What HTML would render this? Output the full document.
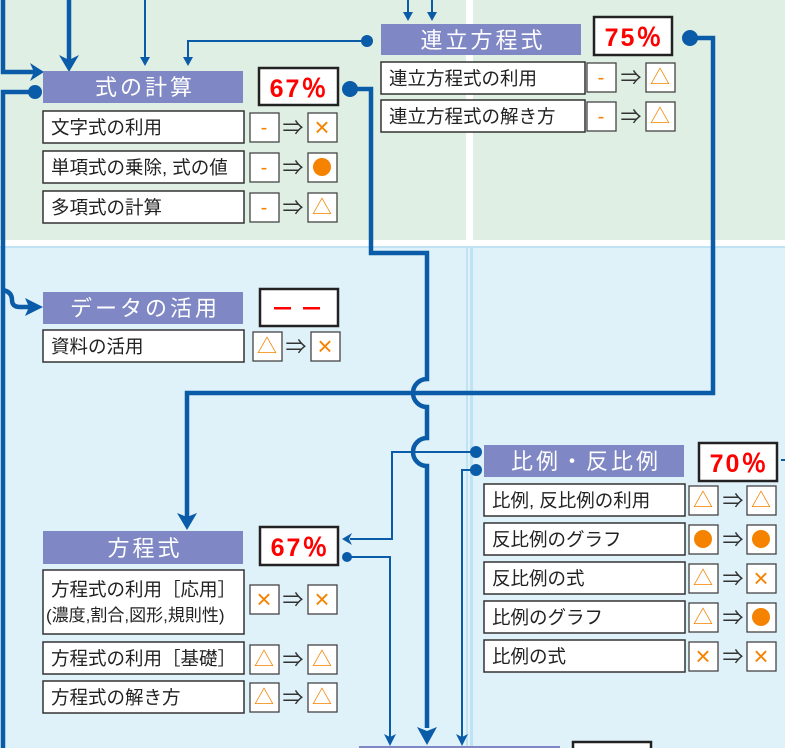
<!DOCTYPE html>
<html><head><meta charset="utf-8"><style>
html,body{margin:0;padding:0;background:#dff1f9}
svg{display:block}
text{font-family:"Liberation Sans","Noto Sans CJK JP",sans-serif}
.h{fill:#7f88c4}
.ht{fill:#fff;font-size:22px;text-anchor:middle;letter-spacing:3px}
.r{fill:#fff;stroke:#333;stroke-width:1.5}
.rt{fill:#222;font-size:18.5px}
.p{fill:#fff;stroke:#222;stroke-width:2.5}
.pt{fill:#f00;font-size:25px;font-weight:bold;text-anchor:middle;font-family:"Liberation Sans Narrow","Liberation Sans",sans-serif;letter-spacing:2px}
.s{fill:#fff;stroke:#444;stroke-width:1.3}
.st{fill:#f58300;font-size:20px;text-anchor:middle}
.x{fill:#f58300;font-size:26px;text-anchor:middle}
.ar{fill:#333;font-size:21px;text-anchor:middle}
.k{fill:none;stroke:#0a5ba8;stroke-width:4.5}
.t{fill:none;stroke:#0a5ba8;stroke-width:2}
.d{fill:#0a5ba8}
</style></head><body>
<svg width="785" height="748" viewBox="0 0 785 748" xmlns="http://www.w3.org/2000/svg">
<rect x="0" y="0" width="785" height="240" fill="#e0efe4"/>
<rect x="0" y="240" width="785" height="6" fill="#fff"/>
<rect x="0" y="246" width="785" height="502" fill="#dff1f9"/>
<rect x="466" y="0" width="7" height="240" fill="#fff"/>
<rect x="466" y="246" width="2" height="502" fill="#bfe2f4"/>
<rect x="470" y="246" width="3" height="502" fill="#bfe2f4"/>
<rect x="0" y="246" width="785" height="2" fill="#bfe2f4"/>

<path class="k" d="M3 0 V72 H36"/><path class="d" d="M44 72 L30 63 L34 72 L30 81Z"/>
<path class="k" d="M69 0 V60"/><path class="d" d="M69 72 L59 55 L69 60 L79 55Z"/>
<path class="t" d="M145 0 V60"/><path class="d" d="M145 66 L140 57 L150 57Z"/>
<path class="k" d="M35 92 H3 V748"/><circle class="d" cx="35" cy="92" r="7"/>
<path class="k" d="M3 290 Q12 292 12 300 Q12 307 20 307 H34"/><path class="d" d="M43 307 L25 298 L29 307 L25 316Z"/>
<path class="t" d="M367 41 H188 V60"/><circle class="d" cx="367" cy="41" r="6"/><path class="d" d="M188 66 L183 57 L193 57Z"/>
<path class="t" d="M408 0 V14"/><path class="d" d="M408 21 L403 12 L413 12Z"/>
<path class="t" d="M432 0 V14"/><path class="d" d="M432 21 L427 12 L437 12Z"/>
<path class="k" d="M350 89 H371 V253 H427 V379 A14 14 0 0 0 427 407 V438 A14 14 0 0 0 427 466 V728"/>
<circle class="d" cx="350" cy="89" r="8"/>
<path class="d" d="M427 745 L417 727 L427 731 L437 727Z"/>
<path class="k" d="M690 38 H713 V393 H187 V518"/><circle class="d" cx="690" cy="38" r="8"/>
<path class="d" d="M187 530 L177 513 L187 517 L197 513Z"/>
<path class="t" d="M476 452 H392 V539 H350"/><circle class="d" cx="476" cy="452" r="6"/>
<path class="d" d="M342 539 L352 533 L349 539 L352 545Z"/>
<path class="t" d="M347 557 H390 V738"/><circle class="d" cx="347" cy="557" r="5"/>
<path class="d" d="M390 746 L384 734 L390 737 L396 734Z"/>
<path class="t" d="M476 470 H462 V738"/><circle class="d" cx="476" cy="470" r="6"/>
<path class="d" d="M462 746 L456 734 L462 737 L468 734Z"/>
<path class="t" d="M785 460 H781"/>

<rect class="h" x="43" y="71" width="200" height="32"/><text class="ht" x="145" y="95">式の計算</text>
<rect class="p" x="259" y="68" width="79" height="37"/><text class="pt" x="299" y="97">67％</text>
<rect class="r" x="43" y="111" width="201" height="32"/><text class="rt" x="51" y="134">文字式の利用</text>
<rect class="r" x="43" y="151" width="201" height="32"/><text class="rt" x="51" y="174">単項式の乗除, 式の値</text>
<rect class="r" x="43" y="191" width="201" height="32"/><text class="rt" x="51" y="214">多項式の計算</text>
<rect class="s" x="250" y="113" width="29" height="29"/><text class="st" x="264" y="134">-</text><text class="ar" x="293" y="135">⇒</text><rect class="s" x="308" y="113" width="29" height="29"/><text class="x" x="322" y="136">×</text>
<rect class="s" x="250" y="153" width="29" height="29"/><text class="st" x="264" y="174">-</text><text class="ar" x="293" y="175">⇒</text><rect class="s" x="308" y="153" width="29" height="29"/><circle cx="322" cy="167" r="9" fill="#f58300"/>
<rect class="s" x="250" y="193" width="29" height="29"/><text class="st" x="264" y="214">-</text><text class="ar" x="293" y="215">⇒</text><rect class="s" x="308" y="193" width="29" height="29"/><text class="st" x="322" y="214">△</text>

<rect class="h" x="381" y="24" width="200" height="31"/><text class="ht" x="483" y="48">連立方程式</text>
<rect class="p" x="594" y="17" width="78" height="38"/><text class="pt" x="634" y="46">75％</text>
<rect class="r" x="381" y="62" width="204" height="32"/><text class="rt" x="389" y="85">連立方程式の利用</text>
<rect class="r" x="381" y="100" width="204" height="32"/><text class="rt" x="389" y="123">連立方程式の解き方</text>
<rect class="s" x="587" y="63" width="29" height="29"/><text class="st" x="601" y="84">-</text><text class="ar" x="631" y="85">⇒</text><rect class="s" x="646" y="63" width="29" height="29"/><text class="st" x="660" y="84">△</text>
<rect class="s" x="587" y="102" width="29" height="29"/><text class="st" x="601" y="123">-</text><text class="ar" x="631" y="124">⇒</text><rect class="s" x="646" y="102" width="29" height="29"/><text class="st" x="660" y="123">△</text>

<rect class="h" x="43" y="292" width="200" height="32"/><text class="ht" x="145" y="316">データの活用</text>
<rect class="p" x="260" y="289" width="78" height="37"/>
<rect x="274" y="307" width="17" height="2.5" fill="#f00"/><rect x="303" y="307" width="17" height="2.5" fill="#f00"/>
<rect class="r" x="43" y="330" width="201" height="32"/><text class="rt" x="51" y="353">資料の活用</text>
<rect class="s" x="253" y="332" width="29" height="29"/><text class="st" x="267" y="353">△</text><text class="ar" x="296" y="354">⇒</text><rect class="s" x="311" y="332" width="29" height="29"/><text class="x" x="325" y="355">×</text>

<rect class="h" x="484" y="445" width="200" height="32"/><text class="ht" x="586" y="469">比例・反比例</text>
<rect class="p" x="699" y="443" width="78" height="38"/><text class="pt" x="739" y="472">70％</text>
<rect class="r" x="484" y="484" width="201" height="32"/><text class="rt" x="492" y="507">比例, 反比例の利用</text>
<rect class="r" x="484" y="523" width="201" height="32"/><text class="rt" x="492" y="546">反比例のグラフ</text>
<rect class="r" x="484" y="562" width="201" height="32"/><text class="rt" x="492" y="585">反比例の式</text>
<rect class="r" x="484" y="601" width="201" height="32"/><text class="rt" x="492" y="624">比例のグラフ</text>
<rect class="r" x="484" y="640" width="201" height="32"/><text class="rt" x="492" y="663">比例の式</text>
<rect class="s" x="689" y="486" width="29" height="29"/><text class="st" x="703" y="507">△</text><text class="ar" x="733" y="508">⇒</text><rect class="s" x="747" y="486" width="29" height="29"/><text class="st" x="761" y="507">△</text>
<rect class="s" x="689" y="525" width="29" height="29"/><circle cx="703" cy="539" r="9" fill="#f58300"/><text class="ar" x="733" y="547">⇒</text><rect class="s" x="747" y="525" width="29" height="29"/><circle cx="761" cy="539" r="9" fill="#f58300"/>
<rect class="s" x="689" y="564" width="29" height="29"/><text class="st" x="703" y="585">△</text><text class="ar" x="733" y="586">⇒</text><rect class="s" x="747" y="564" width="29" height="29"/><text class="x" x="761" y="587">×</text>
<rect class="s" x="689" y="603" width="29" height="29"/><text class="st" x="703" y="624">△</text><text class="ar" x="733" y="625">⇒</text><rect class="s" x="747" y="603" width="29" height="29"/><circle cx="761" cy="617" r="9" fill="#f58300"/>
<rect class="s" x="689" y="642" width="29" height="29"/><text class="x" x="703" y="665">×</text><text class="ar" x="733" y="664">⇒</text><rect class="s" x="747" y="642" width="29" height="29"/><text class="x" x="761" y="665">×</text>

<rect class="h" x="43" y="531" width="200" height="33"/><text class="ht" x="145" y="556">方程式</text>
<rect class="p" x="260" y="527" width="78" height="38"/><text class="pt" x="300" y="556">67％</text>
<rect class="r" x="43" y="570" width="201" height="64"/><text class="rt" x="51" y="596">方程式の利用［応用］</text><text class="rt" x="46" y="621" style="font-size:17px">(濃度,割合,図形,規則性)</text>
<rect class="r" x="43" y="642" width="201" height="32"/><text class="rt" x="51" y="665">方程式の利用［基礎］</text>
<rect class="r" x="43" y="681" width="201" height="32"/><text class="rt" x="51" y="704">方程式の解き方</text>
<rect class="s" x="250" y="585" width="29" height="29"/><text class="x" x="264" y="608">×</text><text class="ar" x="293" y="607">⇒</text><rect class="s" x="308" y="585" width="29" height="29"/><text class="x" x="322" y="608">×</text>
<rect class="s" x="250" y="645" width="29" height="29"/><text class="st" x="264" y="666">△</text><text class="ar" x="293" y="667">⇒</text><rect class="s" x="308" y="645" width="29" height="29"/><text class="st" x="322" y="666">△</text>
<rect class="s" x="250" y="683" width="29" height="29"/><text class="st" x="264" y="704">△</text><text class="ar" x="293" y="705">⇒</text><rect class="s" x="308" y="683" width="29" height="29"/><text class="st" x="322" y="704">△</text>

<rect class="h" x="359" y="746" width="201" height="4"/>
<rect class="p" x="573" y="742" width="78" height="12"/>
</svg>
</body></html>
